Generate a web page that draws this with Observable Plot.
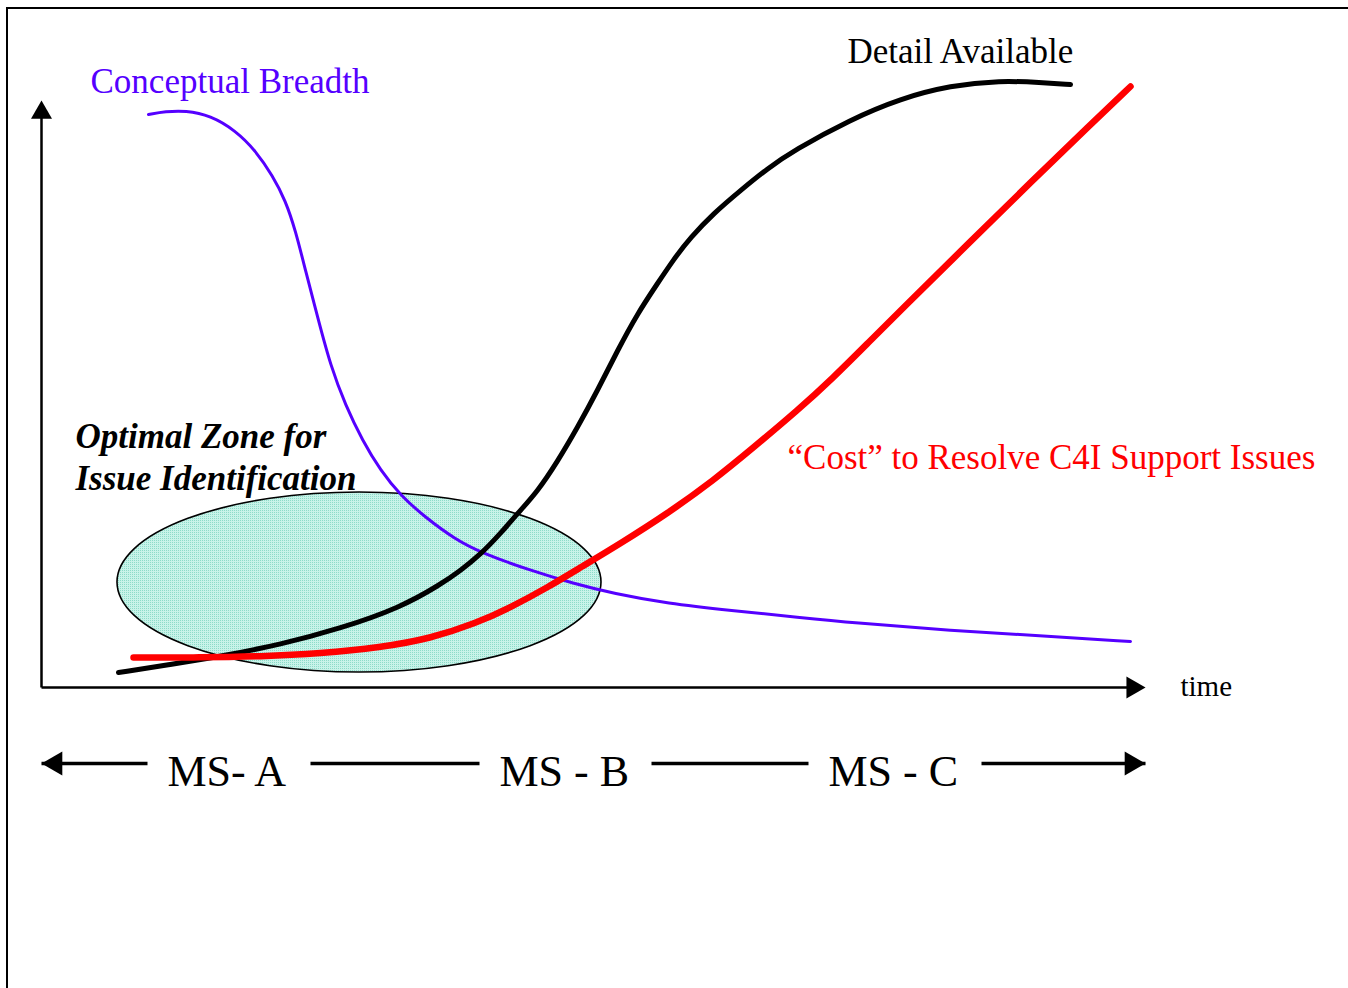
<!DOCTYPE html>
<html><head><meta charset="utf-8">
<script src="https://cdn.jsdelivr.net/npm/d3@7"></script>
<script src="https://cdn.jsdelivr.net/npm/@observablehq/plot@0.6"></script>
<style>
html,body{margin:0;padding:0;background:#fff;width:1348px;height:988px;overflow:hidden}
#wrap{position:relative;width:1348px;height:988px}
#frame{position:absolute;left:6px;top:7px;right:-5px;bottom:-5px;border-top:2.5px solid #000;border-left:2.5px solid #000;pointer-events:none}
</style></head><body><div id="wrap"><div id="chart"></div><div id="frame"></div></div>
<script>
// Time axis (0 … 110.4) and level axis (0 … 117.4)
const X_MAX = 110.4, Y_MAX = 117.4;

const breadthT = [10.7,12.4,14.4,16.9,19.4,21.4,23.1,24.4,25.4,26.4,27.7,28.9,30.4,32.1,33.9,35.9,38.4,41.4,43.9,48.9,53.2,57.2,62.6,68.9,75.9,80.9,90.9,100.9,108.9];
const breadthV = [114.6,115.2,115.4,114.4,111.4,107.4,102.4,97.4,91.4,83.4,73.4,64.4,56.4,49.4,43.4,38.4,34,29.6,27,23.4,20.8,18.8,16.8,15.4,14,13,11.4,10.2,9.2];

const detailT = [7.7,12.9,17.9,23.9,29.9,35.9,39.9,41.9,43.9,45.9,47.6,49.6,51.6,53.6,55.6,57.6,59.6,61.6,63.2,64.9,67.2,69.9,72.6,75.2,80.9,85.9,90.9,95.9,99.9,102.9];
const detailV = [3,4.6,6.2,8.6,11.8,16,20.6,23.4,26.6,30.8,34.8,39.2,45.2,52,59.4,67.4,74.8,80.8,85.6,90,94.8,99.4,103.8,107.4,113.6,117.8,120.4,121.4,121,120.6];

const costT = [9.2,15.9,21.9,27.9,33.9,38.9,43.4,46.9,50.6,53.9,57.9,62.6,67.2,71.2,75.6,79.2,82.6,85.9,92.9,98.9,104.9,108.9];
const costV = [6,6,6.2,6.8,8,9.8,12.8,16,20,24,28.8,34.8,41.4,48,55.4,62,68.8,75.4,89.2,101,112.6,120.2];

// Optimal zone ellipse: centre and radii
const zoneCenter = [31.8, 21];
const zoneRadii = [24.2, 18];

// Milestone band
const msLabels = ["MS- A", "MS - B", "MS - C"];
const msLabelT = [12.6, 45.8, 78.7];
const msLevel = -15.2;
const msSegStart = [0, 26.9, 61, 94];
const msSegEnd = [10.6, 43.8, 76.7, X_MAX];
const msLabelLevel = -19.6;

// Annotations
const breadthLabel = {text: "Conceptual Breadth", t: 4.9, v: 119};
const detailLabel = {text: "Detail Available", t: 80.6, v: 125};
const costLabel = {text: "\u201cCost\u201d to Resolve C4I Support Issues", t: 74.6, v: 43.8};
const timeLabel = {text: "time", t: 113.9, v: -1.6};
const zoneLines = ["Optimal Zone for", "Issue Identification"];
const zoneLineV = [48, 39.6];
const zoneLineT = 3.4;

const toPts = (T, V) => T.map((t, i) => ({t, v: V[i]}));
const breadth = toPts(breadthT, breadthV);
const detail = toPts(detailT, detailV);
const cost = toPts(costT, costV);
const msSegs = msSegStart.map((s, i) => ({t1: s, t2: msSegEnd[i], v: msLevel}));
const msText = msLabels.map((text, i) => ({text, t: msLabelT[i], v: msLabelLevel}));
const zoneText = zoneLines.map((text, i) => ({text, t: zoneLineT, v: zoneLineV[i]}));

function ellipseMark(index, scales) {
  const {x, y} = scales;
  const g = d3.create("svg:g");
  const pat = g.append("defs").append("pattern")
    .attr("id", "zoneDots").attr("width", 2).attr("height", 2)
    .attr("patternUnits", "userSpaceOnUse");
  pat.append("rect").attr("width", 2).attr("height", 2).attr("fill", "#c8f3e9");
  pat.append("rect").attr("width", 1).attr("height", 1).attr("fill", "#8ddcc9");
  g.append("ellipse")
    .attr("cx", x(zoneCenter[0]))
    .attr("cy", y(zoneCenter[1]))
    .attr("rx", x(zoneCenter[0] + zoneRadii[0]) - x(zoneCenter[0]))
    .attr("ry", y(zoneCenter[1]) - y(zoneCenter[1] + zoneRadii[1]))
    .attr("fill", "url(#zoneDots)")
    .attr("stroke", "#000")
    .attr("stroke-width", 1.6);
  return g.node();
}

const serif = "'Liberation Serif','Times New Roman',Times,serif";

const chart = Plot.plot({
  width: 1348, height: 988,
  marginLeft: 41, marginRight: 203, marginTop: 100, marginBottom: 301,
  x: {domain: [0, X_MAX], axis: null},
  y: {domain: [0, Y_MAX], axis: null},
  style: {background: "transparent", overflow: "visible", fontFamily: serif},
  marks: [
    ellipseMark,
    // axes
    Plot.link([{t1: 0, t2: 0, v1: 0, v2: Y_MAX - 3}], {x1: "t1", x2: "t2", y1: "v1", y2: "v2", stroke: "#000", strokeWidth: 2.5}),
    Plot.link([{t1: 0, t2: X_MAX - 1, v1: 0, v2: 0}], {x1: "t1", x2: "t2", y1: "v1", y2: "v2", stroke: "#000", strokeWidth: 2.5}),
    Plot.dot([{t: 0, v: Y_MAX}], {x: "t", y: "v", symbol: "triangle", r: 7.8, fill: "#000", stroke: "none", dy: 12.1}),
    Plot.dot([{t: X_MAX, v: 0}], {x: "t", y: "v", symbol: "triangle", r: 8.2, rotate: 90, fill: "#000", stroke: "none", dx: -12.7}),
    // curves
    Plot.line(breadth, {x: "t", y: "v", curve: "basis", stroke: "#5500ff", strokeWidth: 3}),
    Plot.line(detail, {x: "t", y: "v", curve: "basis", stroke: "#000", strokeWidth: 5}),
    Plot.line(cost, {x: "t", y: "v", curve: "basis", stroke: "#ff0000", strokeWidth: 6.5}),
    // milestone band
    Plot.link(msSegs, {x1: "t1", x2: "t2", y1: "v", y2: "v", stroke: "#000", strokeWidth: 3.5}),
    Plot.dot([{t: 0, v: msLevel}], {x: "t", y: "v", symbol: "triangle", r: 8.9, rotate: -90, fill: "#000", stroke: "none", dx: 13.9}),
    Plot.dot([{t: X_MAX, v: msLevel}], {x: "t", y: "v", symbol: "triangle", r: 8.9, rotate: 90, fill: "#000", stroke: "none", dx: -13.9}),
    Plot.text(msText, {x: "t", y: "v", text: "text", textAnchor: "start", lineAnchor: "bottom", fontSize: 44, fill: "#000"}),
    // labels
    Plot.text([breadthLabel], {x: "t", y: "v", text: "text", textAnchor: "start", lineAnchor: "bottom", fontSize: 35, fill: "#5500ff"}),
    Plot.text([detailLabel], {x: "t", y: "v", text: "text", textAnchor: "start", lineAnchor: "bottom", fontSize: 35, fill: "#000"}),
    Plot.text([costLabel], {x: "t", y: "v", text: "text", textAnchor: "start", lineAnchor: "bottom", fontSize: 35, fill: "#ff0000"}),
    Plot.text([timeLabel], {x: "t", y: "v", text: "text", textAnchor: "start", lineAnchor: "bottom", fontSize: 29, fill: "#000"}),
    Plot.text(zoneText, {x: "t", y: "v", text: "text", textAnchor: "start", lineAnchor: "bottom", fontSize: 35, fontStyle: "italic", fontWeight: "bold", fill: "#000"})
  ]
});
document.getElementById("chart").appendChild(chart);
</script></body></html>
